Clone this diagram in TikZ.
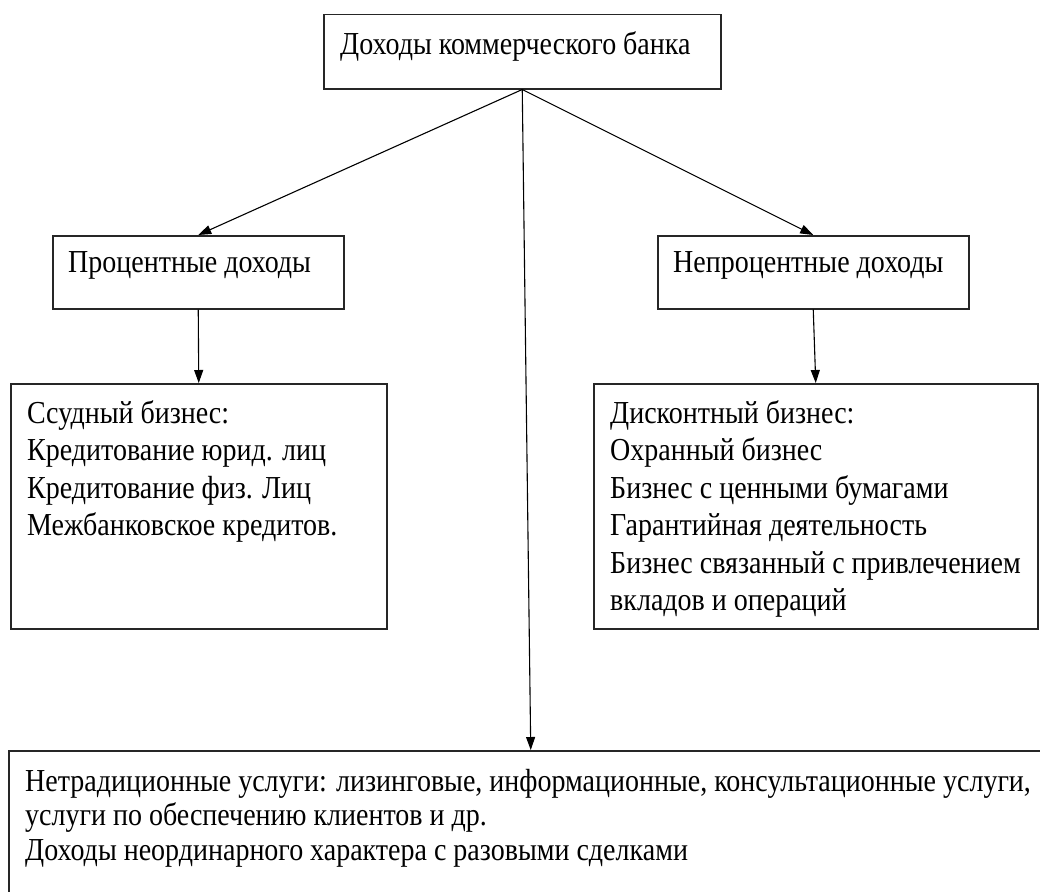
\documentclass[tikz,border=0pt]{standalone}
\usepackage{fontspec}
\setmainfont{Liberation Serif}[FakeStretch=0.875]
\usetikzlibrary{positioning, arrows.meta}

\begin{document}
\begin{tikzpicture}[x=1pt, y=-1pt, >={Triangle[length=13pt,width=9pt]},
 box/.style={draw, line width=1.5pt, color=black!85, rectangle, anchor=north west, inner sep=0pt},
 txt/.style={align=left, inner sep=0pt, font=\fontsize{32}{37.5}\selectfont},
 link/.style={->, line width=1.1pt}]

  \useasboundingbox (0,0) rectangle (1040,891);

  % boxes
  \node[box, minimum width=397pt, minimum height=74pt] (bank) at (323,14) {};
  \node[box, minimum width=291pt, minimum height=73pt] (pct) at (52,235) {};
  \node[box, minimum width=311pt, minimum height=73pt] (nonpct) at (657,235) {};
  \node[box, minimum width=376pt, minimum height=245pt] (loan) at (10,383) {};
  \node[box, minimum width=444pt, minimum height=245pt] (disc) at (593,383) {};
  \node[box, minimum width=1044pt, minimum height=160pt] (extra) at (8,750) {};

  % texts
  \node[txt, below right=17pt and 17pt of bank.north west] (bankt) {Доходы коммерческого банка};
  \node[txt, below right=16pt and 16pt of pct.north west] (pctt) {Процентные доходы};
  \node[txt, below right=16pt and 16pt of nonpct.north west] (nonpctt) {Непроцентные доходы};
  \node[txt, below right=17pt and 17pt of loan.north west] (loant) {Ссудный бизнес:\\Кредитование юрид. лиц\\Кредитование физ. Лиц\\Межбанковское кредитов.};
  \node[txt, below right=17pt and 17pt of disc.north west] (disct) {Дисконтный бизнес:\\Охранный бизнес\\Бизнес с ценными бумагами\\Гарантийная деятельность\\Бизнес связанный с привлечением\\вкладов и операций};
  \node[txt, below right=19pt and 17pt of extra.north west, font=\fontsize{32}{34.5}\selectfont] (extrat) {Нетрадиционные услуги: лизинговые, информационные, консультационные услуги,\\услуги по обеспечению клиентов и др.\\Доходы неординарного характера с разовыми сделками};

  \foreach \s/\t in {bank/pct, bank/nonpct, bank/extra, pct/loan, nonpct/disc} {
   \draw[link] (\s.south) -- (\t.north);}
\end{tikzpicture}
\end{document}
